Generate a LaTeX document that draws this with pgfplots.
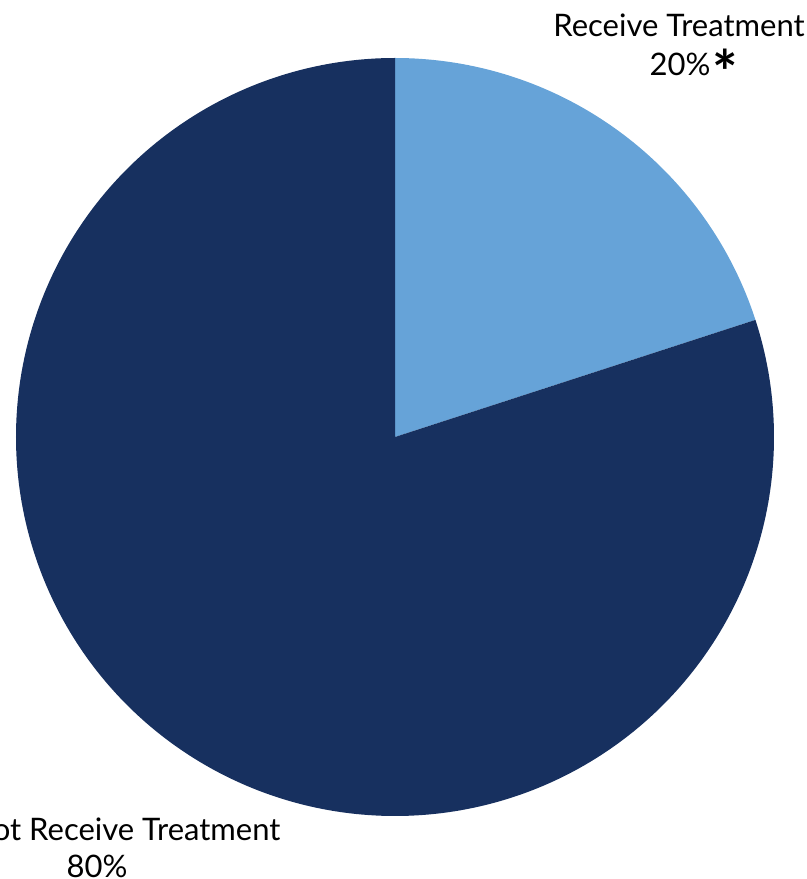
\documentclass[border=0pt]{standalone}
\usepackage{pgfplots}
\pgfplotsset{compat=1.18}
\usepackage{fontspec}
\setmainfont{Lato}
\definecolor{navy}{HTML}{17305F}
\definecolor{lightblue}{HTML}{66A3D8}
\begin{document}
\begin{tikzpicture}
\pgfmathsetmacro{\vA}{20}
\pgfmathsetmacro{\vB}{80}
\pgfmathsetmacro{\aEnd}{90-360*\vA/(\vA+\vB)}
\begin{axis}[hide axis, scale only axis, width=403.5pt, height=439.5pt,
  xmin=0, xmax=807, ymin=0, ymax=879, clip=false]
% light slice: 90 down to 18 degrees
\addplot[fill=lightblue, draw=none, variable=\t, domain=17:91, samples=75]
  ({395+((\t<\aEnd-0.5 || \t>90.5) ? 0 : 379)*cos(\t)},
   {442+((\t<\aEnd-0.5 || \t>90.5) ? 0 : 379)*sin(\t)});
% dark slice: 18 down to -270 degrees
\addplot[fill=navy, draw=none, variable=\t, domain=-271:19, samples=291]
  ({395+((\t>\aEnd+0.5 || \t<-270.5) ? 0 : 379)*cos(\t)},
   {442+((\t>\aEnd+0.5 || \t<-270.5) ? 0 : 379)*sin(\t)});
\node[anchor=base, font=\fontsize{15.5}{18}\selectfont] at (axis cs:679,842) {Receive Treatment};
\node[anchor=base, font=\fontsize{15.5}{18}\selectfont] at (axis cs:680,803) {20\%\rlap{\kern1pt\raisebox{-9.5pt}{\fontsize{30}{30}\selectfont\bfseries *}}};
\node[anchor=base, font=\fontsize{15.5}{18}\selectfont] at (axis cs:97,39) {Did Not Receive Treatment};
\node[anchor=base, font=\fontsize{15.5}{18}\selectfont] at (axis cs:97,2) {80\%};
\end{axis}
\pgfresetboundingbox
\useasboundingbox (current axis.south west) rectangle (current axis.north east);
\end{tikzpicture}
\end{document}
